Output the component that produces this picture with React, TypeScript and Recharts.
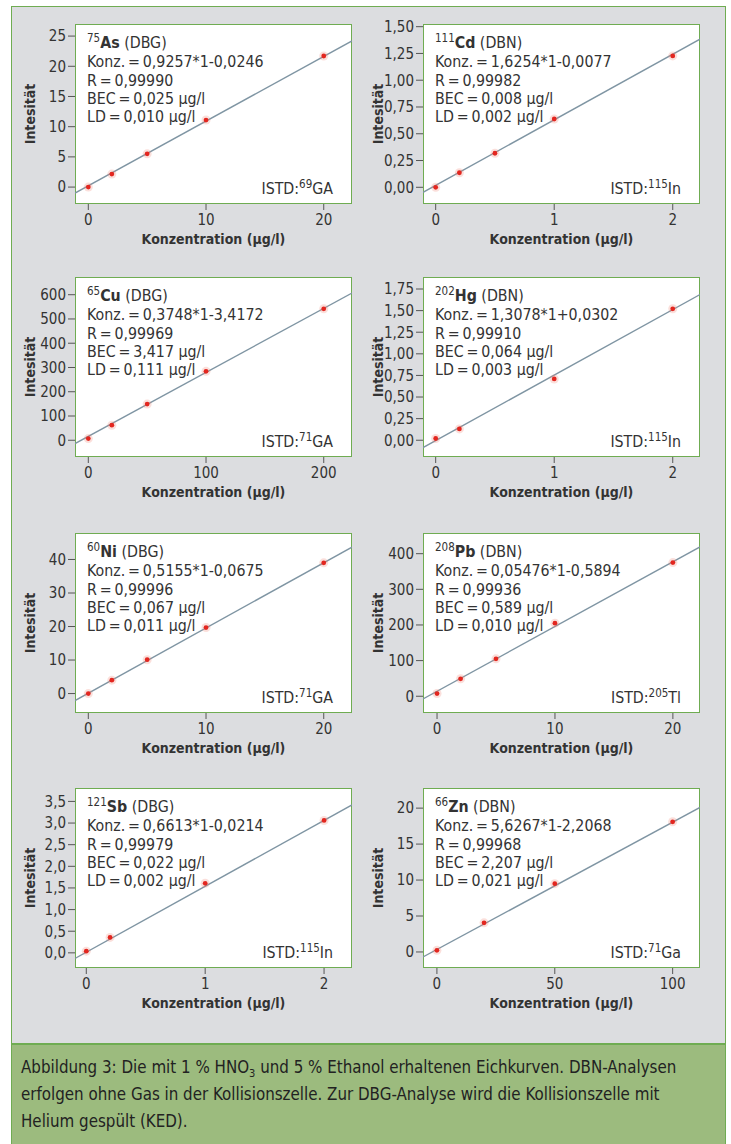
import React from "react";
import { ScatterChart, Scatter, XAxis, YAxis } from "recharts";

const FONT = '"Liberation Sans Narrow", "DejaVu Sans Condensed", "Roboto Condensed", "Noto Sans", sans-serif';
const INK = "#333";
const BOX_GREEN = "#6fac52";
const FIT_COLOR = "#7f95a3";
const DOT_RED = "#e3261f";

// 75As
const asX = [0, 2, 5, 10, 20];
const asY = [0, 2.15, 5.5, 11.1, 21.7];
const asFit = [{ x: -1.13, y: -1.0 }, { x: 22.4, y: 24.2 }];
const asXTicks = [0, 10, 20];
const asYTicks = [0, 5, 10, 15, 20, 25];

// 111Cd
const cdX = [0, 0.2, 0.5, 1, 2];
const cdY = [0, 0.136, 0.318, 0.638, 1.227];
const cdFit = [{ x: -0.107, y: -0.047 }, { x: 2.23, y: 1.383 }];
const cdXTicks = [0, 1, 2];
const cdYTicks = [0, 0.25, 0.5, 0.75, 1.0, 1.25, 1.5];

// 65Cu
const cuX = [0, 20, 50, 100, 200];
const cuY = [7, 62, 149, 284, 542];
const cuFit = [{ x: -11.3, y: -14 }, { x: 224, y: 607 }];
const cuXTicks = [0, 100, 200];
const cuYTicks = [0, 100, 200, 300, 400, 500, 600];

// 202Hg
const hgX = [0, 0.2, 1, 2];
const hgY = [0.02, 0.131, 0.709, 1.521];
const hgFit = [{ x: -0.107, y: -0.085 }, { x: 2.23, y: 1.686 }];
const hgXTicks = [0, 1, 2];
const hgYTicks = [0, 0.25, 0.5, 0.75, 1.0, 1.25, 1.5, 1.75];

// 60Ni
const niX = [0, 2, 5, 10, 20];
const niY = [0, 4.0, 10.1, 19.7, 39.0];
const niFit = [{ x: -1.13, y: -2.1 }, { x: 22.4, y: 43.7 }];
const niXTicks = [0, 10, 20];
const niYTicks = [0, 10, 20, 30, 40];

// 208Pb
const pbX = [0, 2, 5, 10, 20];
const pbY = [7.6, 49, 105, 205, 375];
const pbFit = [{ x: -1.19, y: -7.6 }, { x: 22.3, y: 419 }];
const pbXTicks = [0, 10, 20];
const pbYTicks = [0, 100, 200, 300, 400];

// 121Sb
const sbX = [0, 0.2, 1, 2];
const sbY = [0.04, 0.357, 1.608, 3.06];
const sbFit = [{ x: -0.095, y: -0.13 }, { x: 2.235, y: 3.42 }];
const sbXTicks = [0, 1, 2];
const sbYTicks = [0, 0.5, 1.0, 1.5, 2.0, 2.5, 3.0, 3.5];

// 66Zn
const znX = [0, 20, 50, 100];
const znY = [0.23, 4.05, 9.5, 18.1];
const znFit = [{ x: -5.9, y: -0.7 }, { x: 111.6, y: 20.1 }];
const znXTicks = [0, 50, 100];
const znYTicks = [0, 5, 10, 15, 20];

const toPoints = (xs: number[], ys: number[]) => xs.map((x, i) => ({ x, y: ys[i] }));

const panels = [
  { iso: "75", el: "As", mode: "DBG", eq: "0,9257*1-0,0246", r: "0,99990", bec: "0,025", ld: "0,010", istdIso: "69", istdEl: "GA",
    pts: toPoints(asX, asY), fit: asFit, xTicks: asXTicks, yTicks: asYTicks, xDomain: [-1.13, 22.4], yDomain: [-2.8, 27], dec: 0 },
  { iso: "111", el: "Cd", mode: "DBN", eq: "1,6254*1-0,0077", r: "0,99982", bec: "0,008", ld: "0,002", istdIso: "115", istdEl: "In",
    pts: toPoints(cdX, cdY), fit: cdFit, xTicks: cdXTicks, yTicks: cdYTicks, xDomain: [-0.107, 2.23], yDomain: [-0.156, 1.525], dec: 2 },
  { iso: "65", el: "Cu", mode: "DBG", eq: "0,3748*1-3,4172", r: "0,99969", bec: "3,417", ld: "0,111", istdIso: "71", istdEl: "GA",
    pts: toPoints(cuX, cuY), fit: cuFit, xTicks: cuXTicks, yTicks: cuYTicks, xDomain: [-11.3, 224], yDomain: [-69, 673], dec: 0 },
  { iso: "202", el: "Hg", mode: "DBN", eq: "1,3078*1+0,0302", r: "0,99910", bec: "0,064", ld: "0,003", istdIso: "115", istdEl: "In",
    pts: toPoints(hgX, hgY), fit: hgFit, xTicks: hgXTicks, yTicks: hgYTicks, xDomain: [-0.107, 2.23], yDomain: [-0.194, 1.889], dec: 2 },
  { iso: "60", el: "Ni", mode: "DBG", eq: "0,5155*1-0,0675", r: "0,99996", bec: "0,067", ld: "0,011", istdIso: "71", istdEl: "GA",
    pts: toPoints(niX, niY), fit: niFit, xTicks: niXTicks, yTicks: niYTicks, xDomain: [-1.13, 22.4], yDomain: [-5.8, 47.9], dec: 0 },
  { iso: "208", el: "Pb", mode: "DBN", eq: "0,05476*1-0,5894", r: "0,99936", bec: "0,589", ld: "0,010", istdIso: "205", istdEl: "Tl",
    pts: toPoints(pbX, pbY), fit: pbFit, xTicks: pbXTicks, yTicks: pbYTicks, xDomain: [-1.19, 22.3], yDomain: [-47, 458], dec: 0 },
  { iso: "121", el: "Sb", mode: "DBG", eq: "0,6613*1-0,0214", r: "0,99979", bec: "0,022", ld: "0,002", istdIso: "115", istdEl: "In",
    pts: toPoints(sbX, sbY), fit: sbFit, xTicks: sbXTicks, yTicks: sbYTicks, xDomain: [-0.095, 2.235], yDomain: [-0.35, 3.81], dec: 1 },
  { iso: "66", el: "Zn", mode: "DBN", eq: "5,6267*1-2,2068", r: "0,99968", bec: "2,207", ld: "0,021", istdIso: "71", istdEl: "Ga",
    pts: toPoints(znX, znY), fit: znFit, xTicks: znXTicks, yTicks: znYTicks, xDomain: [-5.9, 111.6], yDomain: [-2.23, 22.8], dec: 0 },
];

const colLeft = [0, 348];
const rowTop = [0, 253, 509, 764];

const RedDot = (props: any) => {
  const { cx, cy } = props;
  if (cx == null || cy == null) return <g />;
  return (
    <g>
      <circle cx={cx} cy={cy} r={4.5} fill="#f08070" fillOpacity={0.25} />
      <circle cx={cx} cy={cy} r={2.4} fill={DOT_RED} />
    </g>
  );
};

const Sup = ({ children }: { children: React.ReactNode }) => (
  <span style={{ fontSize: 11.5, position: "relative", top: -6 }}>{children}</span>
);

const CalPanel = ({ p, left, top }: { p: any; left: number; top: number }) => {
  const tickStyle = { fill: INK, fontSize: 15, fontFamily: FONT };
  const eqSp = "\u2009=\u2009";
  return (
    <div style={{ position: "absolute", left, top, width: 360, height: 250 }}>
      <div
        style={{
          position: "absolute", left: 75, top: 24, width: 277, height: 180,
          background: "#fff", border: `1.5px solid ${BOX_GREEN}`, boxSizing: "border-box",
        }}
      />
      <div style={{ position: "absolute", left: 0, top: 0 }}>
        <ScatterChart width={360} height={250} margin={{ top: 24, right: 8, bottom: 0, left: 0 }}>
          <XAxis
            type="number"
            dataKey="x"
            domain={p.xDomain}
            ticks={p.xTicks}
            interval={0}
            allowDataOverflow
            axisLine={false}
            tickLine={{ stroke: "#555" }}
            tickSize={6}
            tickMargin={4}
            height={46}
            tick={tickStyle}
            label={(lp: any) => {
              const vb = lp.viewBox;
              return (
                <text x={vb.x + vb.width / 2} y={vb.y + 35} textAnchor="middle" dominantBaseline="central"
                  fill={INK} fontSize={14} fontWeight="bold" fontFamily={FONT}>
                  Konzentration (µg/l)
                </text>
              );
            }}
          />
          <YAxis
            type="number"
            dataKey="y"
            domain={p.yDomain}
            ticks={p.yTicks}
            interval={0}
            allowDataOverflow
            axisLine={false}
            tickLine={{ stroke: "#555" }}
            tickSize={7}
            tickMargin={2}
            width={75}
            tick={tickStyle}
            tickFormatter={(v: number) => v.toFixed(p.dec).replace(".", ",")}
            label={(lp: any) => {
              const vb = lp.viewBox;
              const cy = vb.y + vb.height / 2;
              return (
                <text x={30} y={cy} transform={`rotate(-90 30 ${cy})`} textAnchor="middle" dominantBaseline="central"
                  fill={INK} fontSize={14} fontWeight="bold" fontFamily={FONT}>
                  Intesität
                </text>
              );
            }}
          />
          <Scatter data={p.fit} line={{ stroke: FIT_COLOR, strokeWidth: 1.4 }} shape={() => <g />} isAnimationActive={false} />
          <Scatter data={p.pts} shape={RedDot} isAnimationActive={false} />
        </ScatterChart>
      </div>
      <div
        style={{
          position: "absolute", left: 87, top: 34, fontFamily: FONT, fontSize: 15.8, lineHeight: "18.3px",
          color: INK, whiteSpace: "nowrap",
        }}
      >
        <div><Sup>{p.iso}</Sup><b>{p.el}</b> ({p.mode})</div>
        <div>Konz.{eqSp}{p.eq}</div>
        <div>R{eqSp}{p.r}</div>
        <div>BEC{eqSp}{p.bec} µg/l</div>
        <div>LD{eqSp}{p.ld} µg/l</div>
      </div>
      <div
        style={{
          position: "absolute", right: 360 - 333, top: 180, fontFamily: FONT, fontSize: 15.8, lineHeight: "18px",
          color: INK, whiteSpace: "nowrap",
        }}
      >
        ISTD:<Sup>{p.istdIso}</Sup>{p.istdEl}
      </div>
    </div>
  );
};

export default function App() {
  return (
    <div style={{ position: "absolute", left: 0, top: 0, width: 731, height: 1144, background: "#fff", overflow: "hidden" }}>
      <div
        style={{
          position: "absolute", left: 11, top: 6, width: 715, height: 1038, background: "#dcdde0",
          border: "1.5px solid #6fac52", boxSizing: "border-box",
        }}
      />
      {panels.map((p, i) => (
        <CalPanel key={p.el} p={p} left={colLeft[i % 2]} top={rowTop[Math.floor(i / 2)]} />
      ))}
      <div
        style={{
          position: "absolute", left: 11, top: 1044, width: 715, height: 110, background: "#9cbb7e",
          borderTop: "1.5px solid #6fac52", borderLeft: "1.5px solid #6fac52", borderRight: "1.5px solid #6fac52",
          boxSizing: "border-box", padding: "9px 0 0 9px", fontFamily: FONT, fontSize: 16.8, lineHeight: "27px", color: "#222",
        }}
      >
        Abbildung 3: Die mit 1 % HNO<sub style={{ fontSize: 11, lineHeight: 0 }}>3</sub> und 5 % Ethanol erhaltenen Eichkurven. DBN-Analysen
        <br />
        erfolgen ohne Gas in der Kollisionszelle. Zur DBG-Analyse wird die Kollisionszelle mit
        <br />
        Helium gespült (KED).
      </div>
    </div>
  );
}
